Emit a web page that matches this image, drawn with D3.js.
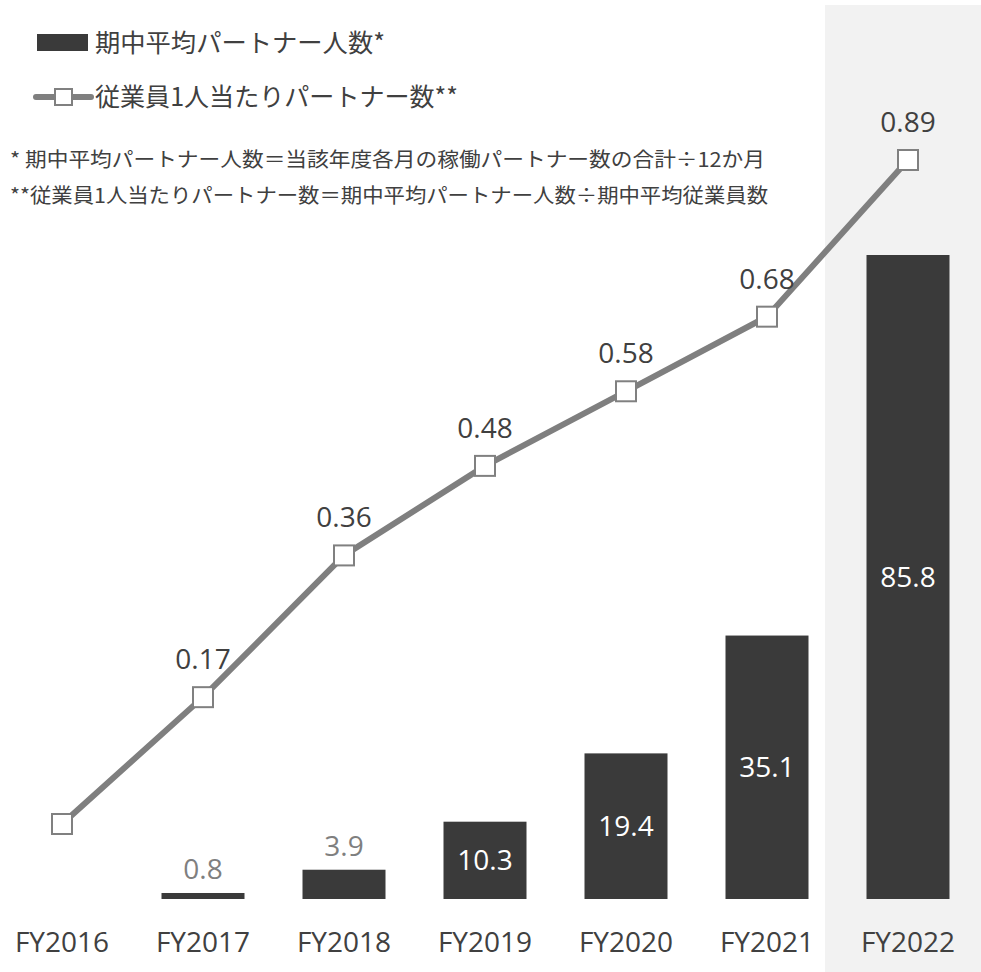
<!DOCTYPE html>
<html>
<head>
<meta charset="utf-8">
<script src="https://cdn.jsdelivr.net/npm/d3@7"></script>
<style>
  html, body { margin: 0; padding: 0; background: #fff; }
  svg { display: block; }
  text { font-family: "Noto Sans CJK JP", "Noto Sans", sans-serif; }
  .num { font-family: "Open Sans", "Noto Sans", sans-serif; }
</style>
</head>
<body>
<svg id="chart" width="981" height="972"></svg>
<script>
// Fiscal years
const years = ["FY2016", "FY2017", "FY2018", "FY2019", "FY2020", "FY2021", "FY2022"];
// Average partners during the period (bars)
const partners = [0, 0.8, 3.9, 10.3, 19.4, 35.1, 85.8];
// Partners per employee (line)
const perEmployee = [0, 0.17, 0.36, 0.48, 0.58, 0.68, 0.89];
// Line labels (first point has no label)
const perEmployeeLabels = [null, "0.17", "0.36", "0.48", "0.58", "0.68", "0.89"];

const legendBar = "期中平均パートナー人数*";
const legendLine = "従業員1人当たりパートナー数**";
const notes = [
  "* 期中平均パートナー人数＝当該年度各月の稼働パートナー数の合計÷12か月",
  "**従業員1人当たりパートナー数＝期中平均パートナー人数÷期中平均従業員数"
];
const noteWidths = [755, 758];
const highlightYear = "FY2022";

const svg = d3.select("#chart");
const W = 981, H = 972;

const x = d3.scaleBand().domain(years).range([-8.5, 978.5]).paddingInner(0).paddingOuter(0);
const barW = 83;
const cx = d => x(d) + x.bandwidth() / 2;

const yBar = d3.scaleLinear().domain([0, 85.8]).range([899, 255]);
const yLine = d3.scaleLinear().domain([0, 0.89]).range([824, 160]);

// Highlight band behind the latest year
svg.append("rect")
  .attr("x", cx(highlightYear) - 83)
  .attr("y", 5)
  .attr("width", W - (cx(highlightYear) - 83))
  .attr("height", H - 5)
  .attr("fill", "#f2f2f2");

// Bars
const barData = years.map((y, i) => ({ y, v: partners[i] })).filter(d => d.v > 0);
svg.append("g").selectAll("rect")
  .data(barData)
  .join("rect")
  .attr("x", d => cx(d.y) - barW / 2)
  .attr("y", d => yBar(d.v))
  .attr("width", barW)
  .attr("height", d => yBar(0) - yBar(d.v))
  .attr("fill", "#3a3a3a");

// Bar value labels: inside for tall bars, above for short ones
svg.append("g").selectAll("text")
  .data(barData)
  .join("text")
  .attr("class", "num")
  .attr("x", d => cx(d.y))
  .attr("y", d => d.v >= 10 ? (yBar(d.v) + yBar(0)) / 2 : yBar(d.v) - 14)
  .attr("dy", d => d.v >= 10 ? "0.36em" : "0")
  .attr("text-anchor", "middle")
  .attr("font-size", 28)
  .attr("fill", d => d.v >= 10 ? "#ffffff" : "#7f7f7f")
  .text(d => d.v.toFixed(1));

// Line
const pts = years.map((y, i) => ({ y, v: perEmployee[i], label: perEmployeeLabels[i] }));
svg.append("path")
  .datum(pts)
  .attr("fill", "none")
  .attr("stroke", "#7f7f7f")
  .attr("stroke-width", 6)
  .attr("d", d3.line().x(d => cx(d.y)).y(d => yLine(d.v)));

// Markers
svg.append("g").selectAll("rect")
  .data(pts)
  .join("rect")
  .attr("x", d => cx(d.y) - 10)
  .attr("y", d => yLine(d.v) - 10)
  .attr("width", 20)
  .attr("height", 20)
  .attr("fill", "#ffffff")
  .attr("stroke", "#808080")
  .attr("stroke-width", 2);

// Line value labels
svg.append("g").selectAll("text")
  .data(pts.filter(d => d.label))
  .join("text")
  .attr("class", "num")
  .attr("x", d => cx(d.y))
  .attr("y", d => yLine(d.v) - 28)
  .attr("text-anchor", "middle")
  .attr("font-size", 28)
  .attr("fill", "#404040")
  .text(d => d.label);

// Category axis
const axis = svg.append("g")
  .attr("transform", "translate(0,925)")
  .call(d3.axisBottom(x).tickSize(0).tickPadding(0));
axis.select(".domain").remove();
axis.selectAll("text")
  .attr("class", "num")
  .attr("font-size", 28)
  .attr("fill", "#404040")
  .attr("dy", "0.98em")
  .style("font-family", '"Open Sans", "Noto Sans", sans-serif');

// Legend
const legend = svg.append("g");
legend.append("rect").attr("x", 37).attr("y", 34).attr("width", 51).attr("height", 17).attr("fill", "#3a3a3a");
legend.append("text").attr("x", 95).attr("y", 43).attr("dy", "0.36em")
  .attr("font-size", 25).attr("fill", "#404040")
  .attr("textLength", 290).attr("lengthAdjust", "spacingAndGlyphs")
  .text(legendBar);
legend.append("line").attr("x1", 36).attr("x2", 91).attr("y1", 97).attr("y2", 97)
  .attr("stroke", "#7f7f7f").attr("stroke-width", 6).attr("stroke-linecap", "round");
legend.append("rect").attr("x", 55).attr("y", 89).attr("width", 17).attr("height", 16)
  .attr("fill", "#ffffff").attr("stroke", "#808080").attr("stroke-width", 2);
legend.append("text").attr("x", 95).attr("y", 97).attr("dy", "0.36em")
  .attr("font-size", 25).attr("fill", "#404040")
  .attr("textLength", 363).attr("lengthAdjust", "spacingAndGlyphs")
  .text(legendLine);

// Footnotes
svg.append("g").selectAll("text")
  .data(notes)
  .join("text")
  .attr("x", 10)
  .attr("y", (d, i) => 160 + i * 36)
  .attr("dy", "0.36em")
  .attr("font-size", 20)
  .attr("fill", "#404040")
  .attr("textLength", (d, i) => noteWidths[i])
  .attr("lengthAdjust", "spacingAndGlyphs")
  .text(d => d);
</script>
</body>
</html>
